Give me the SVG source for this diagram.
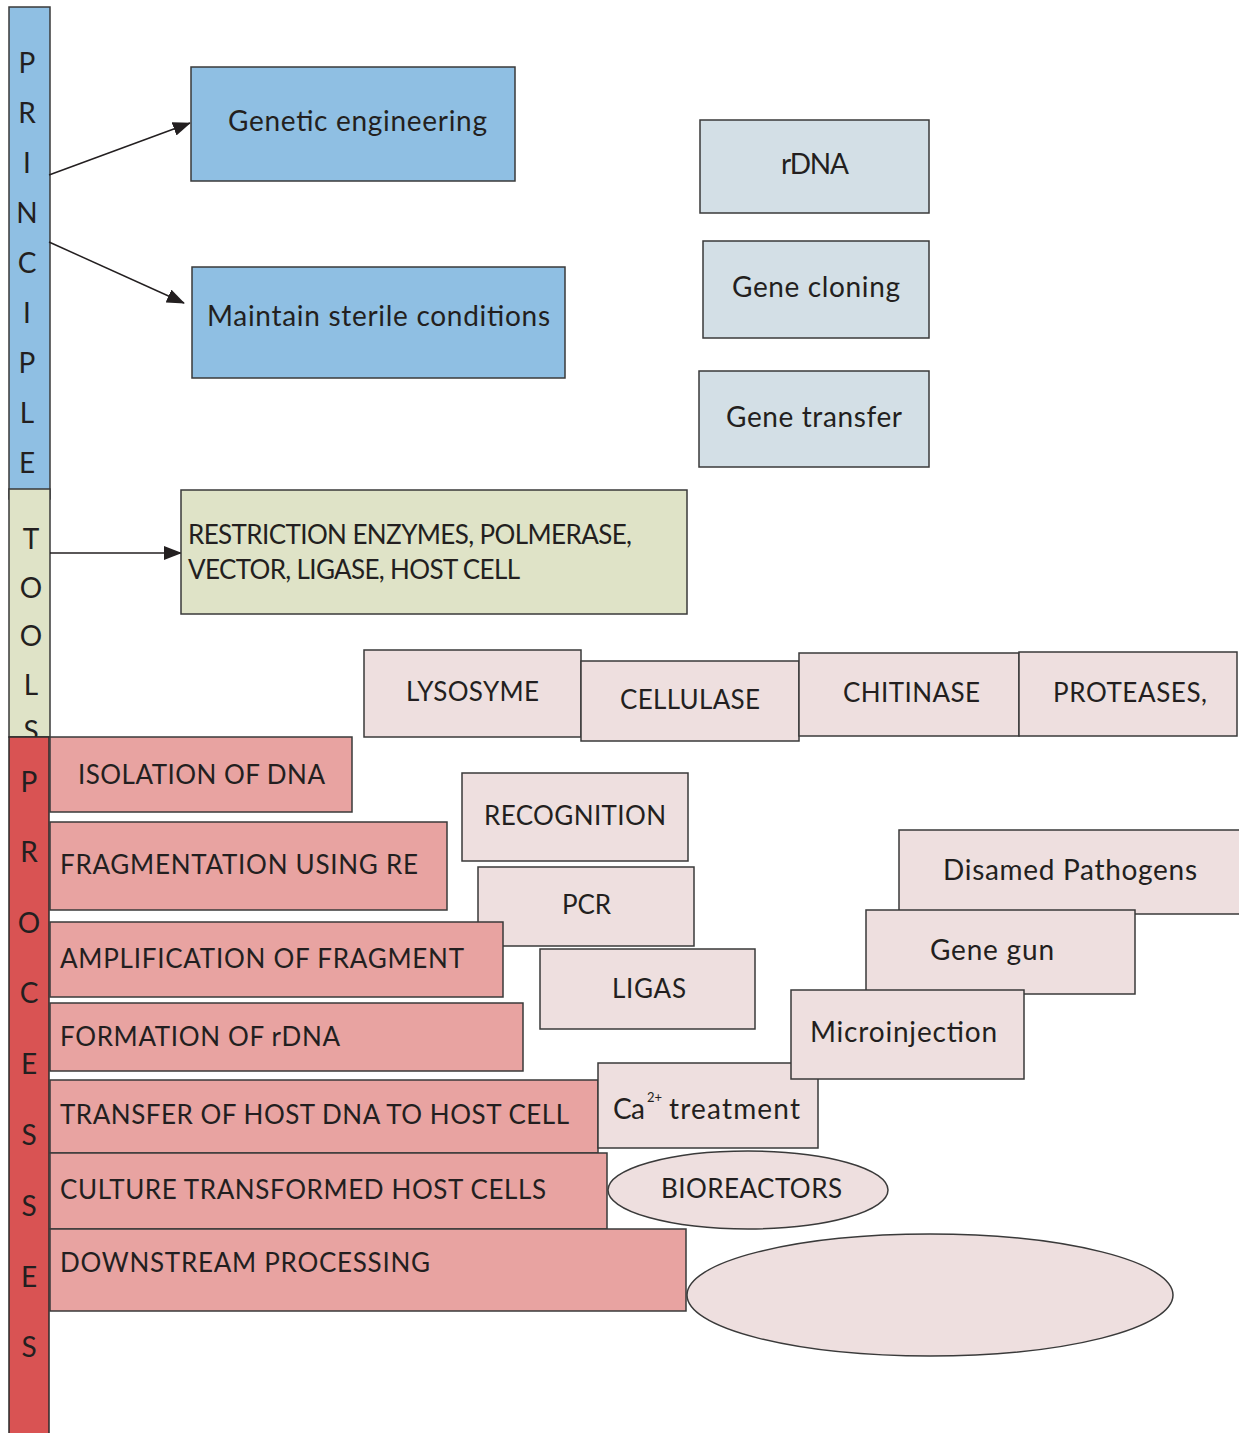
<svg xmlns="http://www.w3.org/2000/svg" width="1239" height="1433" viewBox="0 0 1239 1433">
<defs>
<style>
.t{font-family:Lato,"Open Sans","Liberation Sans",sans-serif;font-size:28px;fill:#231f20}
.u{font-size:26px}
.sup{font-size:13px}
.c{text-anchor:middle}
.bl{fill:#8fbfe3;stroke:#3a3a3a;stroke-width:1.5}
.lb{fill:#d3dfe6;stroke:#3a3a3a;stroke-width:1.5}
.gr{fill:#dfe3c7;stroke:#3a3a3a;stroke-width:1.5}
.rd{fill:#d95353;stroke:#2a2a2a;stroke-width:1.5}
.rb{fill:#e8a3a1;stroke:#3a3a3a;stroke-width:1.5}
.pk{fill:#eedfdf;stroke:#3a3a3a;stroke-width:1.5}
.ln{stroke:#231f20;stroke-width:1.5;fill:none}
</style>
<marker id="ah" markerWidth="18" markerHeight="14" refX="17" refY="7" orient="auto" markerUnits="userSpaceOnUse">
<path d="M0,0 L18,7 L0,14 Z" fill="#231f20"/>
</marker>
</defs>
<rect width="1239" height="1433" fill="#ffffff"/>

<g id="principle">
<rect class="bl" x="9" y="7" width="41" height="492"/>
<text class="t c" x="27" y="73">P</text>
<text class="t c" x="27" y="123">R</text>
<text class="t c" x="27" y="173">I</text>
<text class="t c" x="27" y="223">N</text>
<text class="t c" x="27" y="273">C</text>
<text class="t c" x="27" y="323">I</text>
<text class="t c" x="27" y="373">P</text>
<text class="t c" x="27" y="423">L</text>
<text class="t c" x="27" y="473">E</text>
</g>

<g id="tools">
<rect class="gr" x="9" y="489" width="41" height="248"/>
<text class="t c" x="31" y="549">T</text>
<text class="t c" x="31" y="598">O</text>
<text class="t c" x="31" y="646">O</text>
<text class="t c" x="31" y="695">L</text>
<text class="t c" x="31" y="741">S</text>
</g>

<g id="processes">
<rect class="rd" x="9" y="737" width="40" height="710"/>
<text class="t c" x="29" y="792">P</text>
<text class="t c" x="29" y="862">R</text>
<text class="t c" x="29" y="933">O</text>
<text class="t c" x="29" y="1003">C</text>
<text class="t c" x="29" y="1074">E</text>
<text class="t c" x="29" y="1145">S</text>
<text class="t c" x="29" y="1216">S</text>
<text class="t c" x="29" y="1287">E</text>
<text class="t c" x="29" y="1357">S</text>
</g>

<g id="connectors">
<line class="ln" x1="49" y1="175" x2="190" y2="123" marker-end="url(#ah)"/>
<line class="ln" x1="49" y1="242" x2="184" y2="303" marker-end="url(#ah)"/>
<line class="ln" x1="50" y1="553" x2="181" y2="553" marker-end="url(#ah)"/>
</g>

<g id="genetic-engineering">
<rect class="bl" x="191" y="67" width="324" height="114"/>
<text class="t" x="228" y="131" textLength="259">Genetic engineering</text>
</g>
<g id="maintain-sterile">
<rect class="bl" x="192" y="267" width="373" height="111"/>
<text class="t" x="207" y="326" textLength="343">Maintain sterile conditions</text>
</g>

<g id="rdna">
<rect class="lb" x="700" y="120" width="229" height="93"/>
<text class="t" x="781" y="174" textLength="68">rDNA</text>
</g>
<g id="gene-cloning">
<rect class="lb" x="703" y="241" width="226" height="97"/>
<text class="t" x="732" y="297" textLength="168">Gene cloning</text>
</g>
<g id="gene-transfer">
<rect class="lb" x="699" y="371" width="230" height="96"/>
<text class="t" x="726" y="427" textLength="176">Gene transfer</text>
</g>

<g id="tools-list">
<rect class="gr" x="181" y="490" width="506" height="124"/>
<text class="t u" x="188" y="544" textLength="444">RESTRICTION ENZYMES, POLMERASE,</text>
<text class="t u" x="188" y="579" textLength="332">VECTOR, LIGASE, HOST CELL</text>
</g>

<g id="lysosyme">
<rect class="pk" x="364" y="650" width="217" height="87"/>
<text class="t u" x="406" y="701" textLength="133">LYSOSYME</text>
</g>
<g id="cellulase">
<rect class="pk" x="581" y="661" width="218" height="80"/>
<text class="t u" x="620" y="709" textLength="140">CELLULASE</text>
</g>
<g id="chitinase">
<rect class="pk" x="799" y="653" width="220" height="83"/>
<text class="t u" x="843" y="702" textLength="137">CHITINASE</text>
</g>
<g id="proteases">
<rect class="pk" x="1019" y="652" width="218" height="84"/>
<text class="t u" x="1053" y="702" textLength="154">PROTEASES,</text>
</g>

<g id="recognition">
<rect class="pk" x="462" y="773" width="226" height="88"/>
<text class="t u" x="484" y="825" textLength="182">RECOGNITION</text>
</g>
<g id="pcr">
<rect class="pk" x="478" y="867" width="216" height="79"/>
<text class="t u" x="562" y="914" textLength="49">PCR</text>
</g>
<g id="ligas">
<rect class="pk" x="540" y="949" width="215" height="80"/>
<text class="t u" x="612" y="998" textLength="74">LIGAS</text>
</g>

<g id="isolation">
<rect class="rb" x="50" y="737" width="302" height="75"/>
<text class="t u" x="78" y="784" textLength="247">ISOLATION OF DNA</text>
</g>
<g id="fragmentation">
<rect class="rb" x="50" y="822" width="397" height="88"/>
<text class="t u" x="60" y="874" textLength="358">FRAGMENTATION USING RE</text>
</g>
<g id="amplification">
<rect class="rb" x="50" y="922" width="453" height="75"/>
<text class="t u" x="60" y="968" textLength="404">AMPLIFICATION OF FRAGMENT</text>
</g>
<g id="formation">
<rect class="rb" x="50" y="1003" width="473" height="68"/>
<text class="t u" x="60" y="1046" textLength="280">FORMATION OF rDNA</text>
</g>
<g id="transfer">
<rect class="rb" x="50" y="1080" width="548" height="73"/>
<text class="t u" x="60" y="1124" textLength="509">TRANSFER OF HOST DNA TO HOST CELL</text>
</g>
<g id="culture">
<rect class="rb" x="50" y="1153" width="557" height="76"/>
<text class="t u" x="60" y="1199" textLength="486">CULTURE TRANSFORMED HOST CELLS</text>
</g>
<g id="downstream">
<rect class="rb" x="50" y="1229" width="636" height="82"/>
<text class="t u" x="60" y="1272" textLength="370">DOWNSTREAM PROCESSING</text>
</g>

<g id="disamed-pathogens">
<rect class="pk" x="899" y="830" width="345" height="84"/>
<text class="t" x="943" y="880" textLength="254">Disamed Pathogens</text>
</g>
<g id="gene-gun">
<rect class="pk" x="866" y="910" width="269" height="84"/>
<text class="t" x="930" y="960" textLength="124">Gene gun</text>
</g>
<g id="ca-treatment">
<rect class="pk" x="598" y="1063" width="220" height="85"/>
<text class="t" x="613" y="1119" textLength="32">Ca</text>
<text class="t sup" x="647" y="1102">2+</text>
<text class="t" x="669" y="1119" textLength="131">treatment</text>
</g>
<g id="microinjection">
<rect class="pk" x="791" y="990" width="233" height="89"/>
<text class="t" x="810" y="1042" textLength="187">Microinjection</text>
</g>

<g id="bioreactors">
<ellipse class="pk" cx="748" cy="1190" rx="140" ry="39"/>
<text class="t u" x="661" y="1198" textLength="181">BIOREACTORS</text>
</g>
<g id="blank-ellipse">
<ellipse class="pk" cx="930" cy="1295" rx="243" ry="61"/>
</g>
</svg>
